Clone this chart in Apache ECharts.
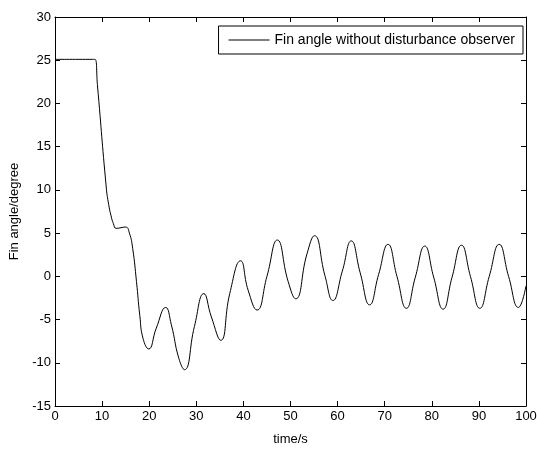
<!DOCTYPE html>
<html>
<head>
<meta charset="utf-8">
<script src="https://cdn.jsdelivr.net/npm/echarts@6/dist/echarts.min.js"></script>
<style>
  html, body { margin: 0; padding: 0; background: #fff; }
  #chart { width: 537px; height: 449px; }
</style>
</head>
<body>
<div id="chart"></div>
<script>
// time (s) and fin angle (degree)
const timeS = [
  0, 8.0, 8.5, 9.0, 10.9, 11.4, 11.9, 12.4, 13.0, 15.0, 15.8, 16.5, 17.3, 18.0, 18.7,
  19.9, 21.5, 23.5, 24.7, 26.3, 27.5, 29.6, 31.6, 33.2, 35.2, 37.1, 39.4, 41.0,
  42.9, 45.0, 47.2, 49.5, 51.1, 53.5, 55.1, 57.3, 59.0, 61.0, 62.9, 64.8,
  66.8, 68.7, 70.7, 72.6, 74.6, 76.5, 78.5, 80.4, 82.4, 84.3, 86.3, 88.2, 90.2,
  92.2, 94.3, 96.3, 98.4, 100
];
const finAngle = [
  25.1, 25.1, 25.1, 22.2, 10.2, 8.3, 7.0, 6.1, 5.55, 5.7, 5.0, 3.2, -0.6, -4.5, -7.2,
  -8.4, -6.0, -3.6, -5.6, -9.5, -10.8, -5.8, -2.0, -4.7, -7.4, -2.0, 1.8, -1.6,
  -3.9, 0.0, 4.2, -0.6, -2.6, 2.6, 4.7, 0.1, -2.8, 0.6, 4.1, 0.4,
  -3.3, 0.2, 3.7, 0.0, -3.7, -0.1, 3.5, -0.1, -3.8, -0.1, 3.6, 0.0, -3.7,
  0.0, 3.7, 0.0, -3.6, -1.1
];
const seriesName = 'Fin angle without disturbance observer';

const font = 'Liberation Sans, Arial, sans-serif';
const axisText = { color: '#000', fontSize: 13, fontFamily: font };
const black = { lineStyle: { color: '#000', width: 1 } };

const chart = echarts.init(document.getElementById('chart'));

const baseX = {
  type: 'value', min: 0, max: 100, interval: 10,
  axisLine: { show: true, onZero: false, ...black },
  axisTick: { show: true, inside: true, length: 5, ...black },
  splitLine: { show: false }
};
const baseY = {
  type: 'value', min: -15, max: 30, interval: 5,
  axisLine: { show: true, onZero: false, ...black },
  axisTick: { show: true, inside: true, length: 5, ...black },
  splitLine: { show: false }
};

chart.setOption({
  animation: false,
  backgroundColor: '#fff',
  grid: { left: 55, right: 11, top: 17, bottom: 43, outerBoundsMode: 'none', containLabel: false },
  legend: {
    data: [{ name: seriesName, icon: 'rect' }],
    right: 14, top: 26,
    padding: [7, 8, 7, 10],
    borderColor: '#000', borderWidth: 1,
    itemWidth: 41, itemHeight: 1, itemGap: 0,
    textStyle: { ...axisText, fontSize: 14 }
  },
  xAxis: [
    { ...baseX, position: 'bottom',
      name: 'time/s', nameLocation: 'middle', nameGap: 27, nameTextStyle: axisText,
      axisLabel: { ...axisText, margin: 4 } },
    { ...baseX, position: 'top', axisLabel: { show: false } }
  ],
  yAxis: [
    { ...baseY, position: 'left',
      name: 'Fin angle/degree', nameLocation: 'middle', nameGap: 29, nameTextStyle: axisText,
      axisLabel: { ...axisText, margin: 4 } },
    { ...baseY, position: 'right', axisLabel: { show: false } }
  ],
  series: [{
    name: seriesName,
    type: 'line',
    data: timeS.map((t, i) => [t, finAngle[i]]),
    smooth: 0.5,
    symbol: 'none',
    lineStyle: { color: '#000', width: 1 },
    itemStyle: { color: '#000' }
  }]
});
</script>
</body>
</html>
